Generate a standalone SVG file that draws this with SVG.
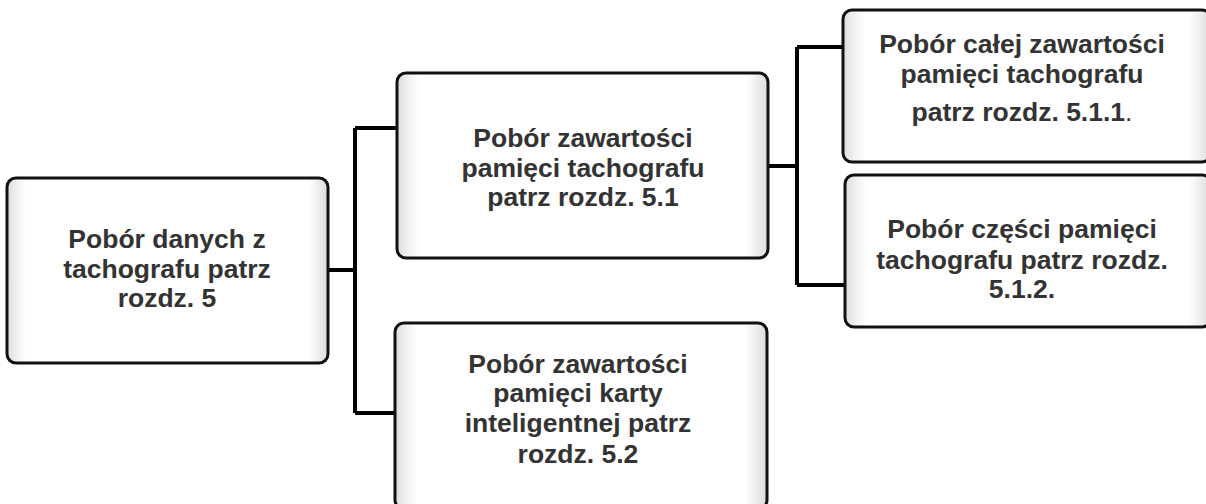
<svg xmlns="http://www.w3.org/2000/svg" width="1206" height="504" viewBox="0 0 1206 504">
<defs>
<linearGradient id="g1" x1="0" y1="0" x2="1" y2="0">
<stop offset="0" stop-color="#dcdcdc"/>
<stop offset="0.035" stop-color="#f4f4f4"/>
<stop offset="0.06" stop-color="#ffffff"/>
<stop offset="0.94" stop-color="#ffffff"/>
<stop offset="0.965" stop-color="#f0f0f0"/>
<stop offset="1" stop-color="#dcdcdc"/>
</linearGradient>
</defs>
<style>
.box{fill:url(#g1);stroke:#111;stroke-width:3}
.t{font-family:"Liberation Sans",Arial,sans-serif;font-weight:bold;font-size:26.5px;fill:#333;text-anchor:middle}
.c{fill:none;stroke:#000;stroke-width:4;stroke-linejoin:miter}
</style>
<rect width="1206" height="504" fill="#fff"/>
<g id="connectors">
<path class="c" d="M328 270 H355 M355 128 V413 M355 128 H397 M355 413 H395"/>
<path class="c" stroke-width="3.5" d="M768 166 H797 M797 47 V285 M797 47 H843 M797 285 H845"/>
</g>
<g id="n1">
<rect class="box" x="7" y="178" width="321" height="185" rx="9"/>
<text class="t" x="167" y="248">Pobór danych z</text>
<text class="t" x="167" y="278">tachografu patrz</text>
<text class="t" x="167" y="307">rozdz. 5</text>
</g>
<g id="n2">
<rect class="box" x="397" y="73" width="371" height="185" rx="9"/>
<text class="t" x="583" y="147">Pobór zawartości</text>
<text class="t" x="583" y="177">pamięci tachografu</text>
<text class="t" x="583" y="206">patrz rozdz. 5.1</text>
</g>
<g id="n3">
<rect class="box" x="395" y="323" width="372" height="186" rx="9"/>
<text class="t" x="578" y="373">Pobór zawartości</text>
<text class="t" x="578" y="402">pamięci karty</text>
<text class="t" x="578" y="432">inteligentnej patrz</text>
<text class="t" x="578" y="463">rozdz. 5.2</text>
</g>
<g id="n4">
<rect class="box" x="843" y="10" width="368" height="152" rx="9"/>
<text class="t" x="1022" y="53">Pobór całej zawartości</text>
<text class="t" x="1022" y="83">pamięci tachografu</text>
<text class="t" x="1022" y="121">patrz rozdz. 5.1.1<tspan font-weight="normal">.</tspan></text>
</g>
<g id="n5">
<rect class="box" x="845" y="175" width="366" height="152" rx="9"/>
<text class="t" x="1022" y="238">Pobór części pamięci</text>
<text class="t" x="1022" y="269">tachografu patrz rozdz.</text>
<text class="t" x="1022" y="298">5.1.2.</text>
</g>
</svg>
